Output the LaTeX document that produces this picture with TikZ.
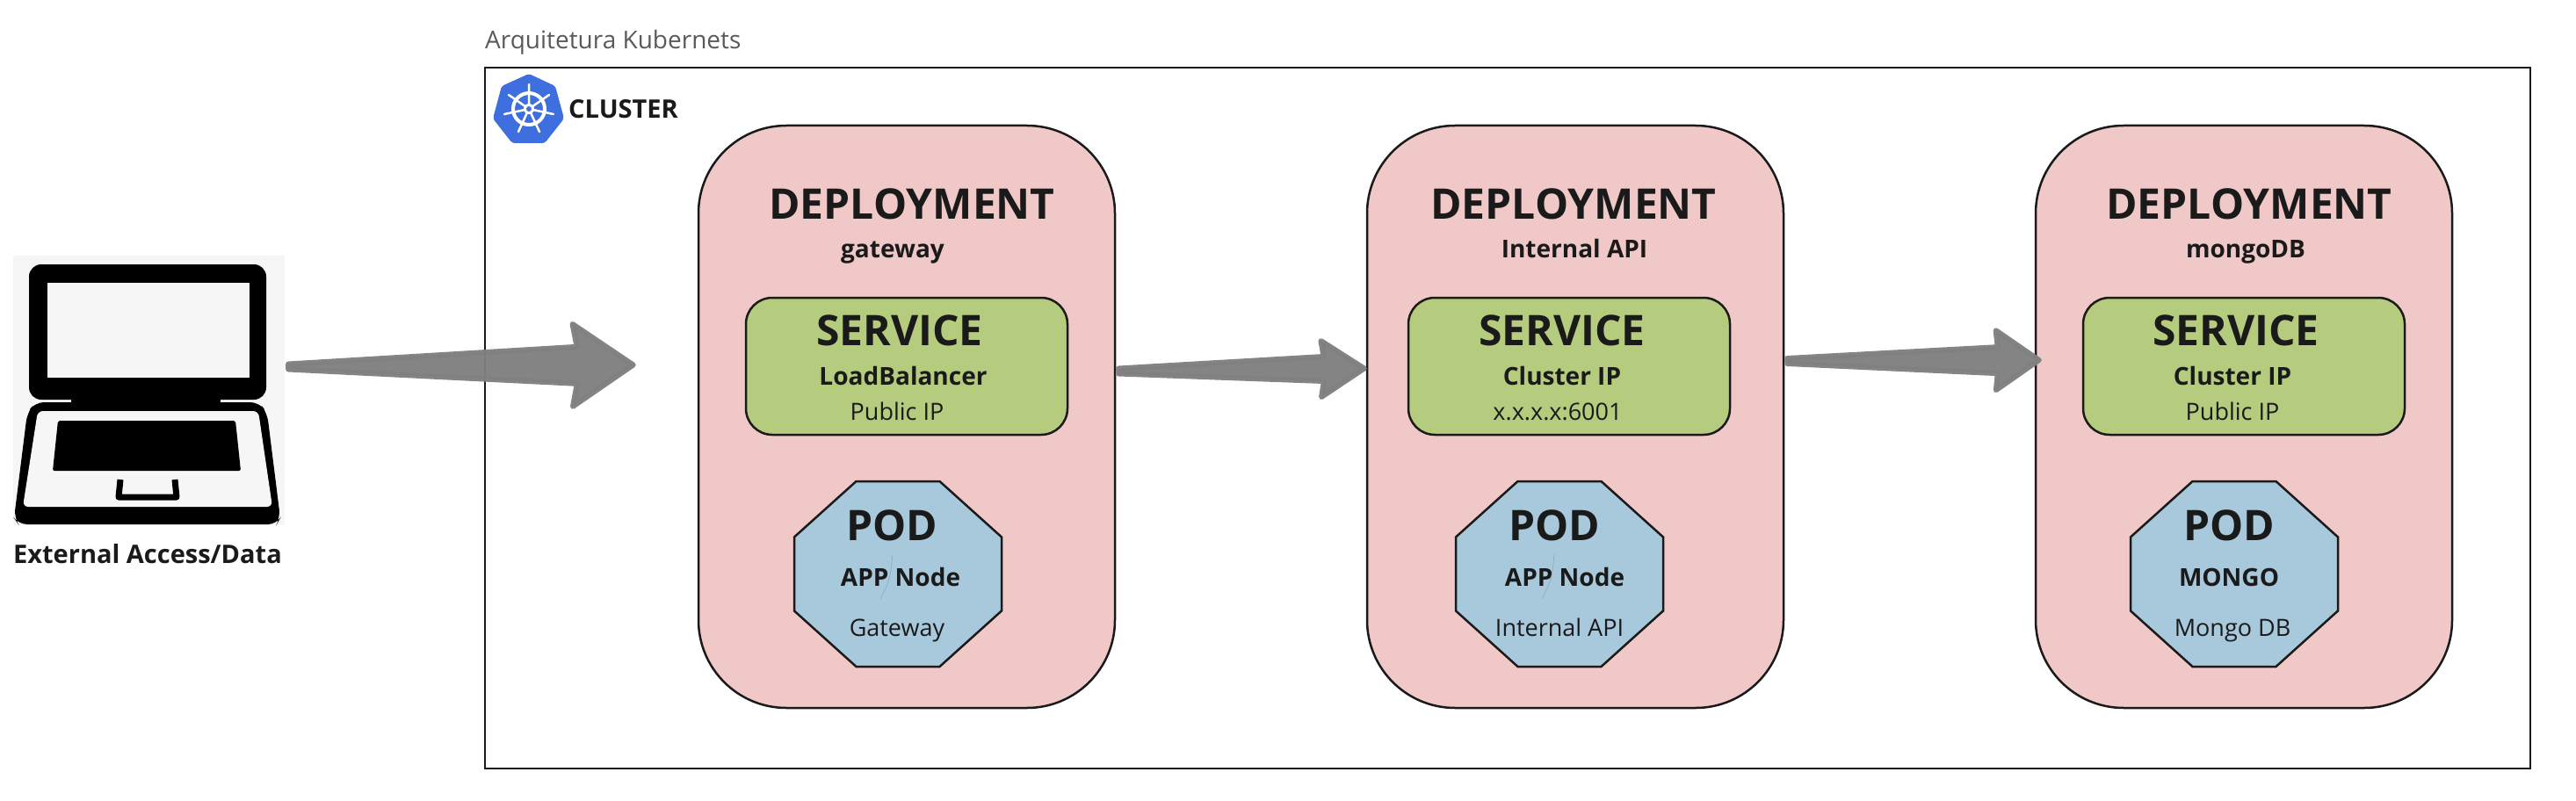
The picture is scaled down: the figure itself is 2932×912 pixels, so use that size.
\documentclass[tikz,border=0pt]{standalone}
\usepackage{fontspec}
\setmainfont{Open Sans}
\usetikzlibrary{calc}
\definecolor{depfill}{HTML}{F0C8C8}
\definecolor{svcfill}{HTML}{B5CB7E}
\definecolor{podfill}{HTML}{A8C8DC}
\definecolor{inkdark}{HTML}{1A1A1A}
\definecolor{arrowgrey}{HTML}{808080}
\definecolor{k8sblue}{HTML}{3F6FDE}
\definecolor{screengrey}{HTML}{F6F6F6}
\definecolor{scratchblue}{HTML}{8CA8BC}
\tikzset{
  depbox/.style={draw=inkdark, line width=2.5pt, fill=depfill, rounded corners=100pt, minimum width=474pt, minimum height=663pt, inner sep=0pt},
  svcbox/.style={draw=inkdark, line width=2.5pt, fill=svcfill, rounded corners=30pt, minimum width=366pt, minimum height=156pt, inner sep=0pt},
  podbox/.pic={\draw[draw=inkdark, line width=2.5pt, fill=podfill, line join=miter] (-47.5,-105.5) -- (47.5,-105.5) -- (118,-42) -- (118,42) -- (47.5,105.5) -- (-47.5,105.5) -- (-118,42) -- (-118,-42) -- cycle;},
  bigtext/.style={anchor=base, text=inkdark, font=\fontsize{48}{48}\selectfont\bfseries},
  boldtext/.style={anchor=base, text=inkdark, font=\fontsize{28}{28}\selectfont\bfseries},
  widetext/.style={anchor=base, text=inkdark, font=\fontsize{29}{29}\selectfont\bfseries},
  lighttext/.style={anchor=base, text=inkdark, font=\fontsize{27}{27}\selectfont},
  scratch/.style={draw=scratchblue, line width=.6pt},
}
% Tapered arrow: tail, tip, half width at tail, half width at neck, neck distance, barb distance, barb half width
\newcommand{\fatarrow}[7]{
  \path[fill=arrowgrey, draw=arrowgrey, line width=6pt, line join=round, opacity=.97]
    ($(#1)!#3pt!-90:(#2)$) -- ($($(#2)!#5pt!(#1)$)!#4pt!-90:(#2)$) -- ($($(#2)!#6pt!(#1)$)!#7pt!-90:(#2)$)
    -- (#2) -- ($($(#2)!#6pt!(#1)$)!#7pt!90:(#2)$) -- ($($(#2)!#5pt!(#1)$)!#4pt!90:(#2)$)
    -- ($(#1)!#3pt!90:(#2)$) -- cycle;
}
\begin{document}
\begin{tikzpicture}[x=1pt, y=-1pt]
\useasboundingbox (0,0) rectangle (2932,912);
% Title and cluster frame
\node[anchor=base west, inner sep=0pt, text=black!65, font=\fontsize{28}{28}\selectfont] (title) at (552,55.5) {Arquitetura Kubernets};
\draw[draw=inkdark, line width=2.5pt] (552,77) rectangle (2880,875);
% Cluster logo
\fill[k8sblue, rounded corners=3pt] (602,84) -- (632,98) -- (642,135) -- (620,163) -- (583,163) -- (561,135) -- (571,98) -- cycle;
\draw[white, line width=4pt] (602,124) circle (18);
\draw[white, line width=2.5pt, line cap=round] (602,124) -- +(0,-28) (602,124) -- +(23,-16) (602,124) -- +(28,6) (602,124) -- +(12,26) (602,124) -- +(-12,26) (602,124) -- +(-28,6) (602,124) -- +(-23,-16);
\fill[white] (602,124) circle (6);
\fill[k8sblue] (602,124) circle (3);
\node[widetext, anchor=base west, inner sep=0pt] (cluster) at (647,135) {CLUSTER};
% Laptop
\node[fill=screengrey, minimum width=309pt, minimum height=307pt, inner sep=0pt] (laptop) at (169.5,444.5) {};
\fill[black, rounded corners=14pt] (33,301) rectangle (303,455);
\fill[black] (81,450) rectangle (251,470);
\fill[screengrey] (54,322) rectangle (284,430);
\fill[black, rounded corners=10pt] (40,458) -- (295,458) -- (304,470) -- (319,590) -- (315,597) -- (21,597) -- (16,590) -- (31,470) -- cycle;
\fill[screengrey, rounded corners=6pt] (43,468) -- (294,468) -- (310,577) -- (26,577) -- cycle;
\fill[black, rounded corners=2pt] (66,479) -- (268,479) -- (274,536) -- (60,536) -- cycle;
\draw[black, line width=7pt, line join=round] (137,546) -- (135,566) -- (201,566) -- (199,546);
\node[widetext] (laptoplabel) at (168,641) {External Access/Data};
% Deployment gateway
\node[depbox] (dep1) at (1032,474.5) {};
\node[bigtext] (dep1title) at (1038,249.5) {DEPLOYMENT};
\node[boldtext] (dep1name) at (1016,293) {gateway};
\node[svcbox] (svc1) at (1032,417) {};
\node[bigtext] (svc1title) at (1024,393.5) {SERVICE};
\node[boldtext] (svc1type) at (1028,438) {LoadBalancer};
\node[lighttext] (svc1addr) at (1021,478) {Public IP};
\pic (pod1) at (1022,653.5) {podbox};
\node[bigtext] (pod1title) at (1015,615.5) {POD};
\node[boldtext] (pod1type) at (1025,667) {APP Node};
\node[lighttext] (pod1name) at (1021,724) {Gateway};
\draw[scratch] (1016,631) .. controls (1013,660) .. (1002,682);
% Deployment Internal API
\node[depbox] (dep2) at (1793,474.5) {};
\node[bigtext] (dep2title) at (1791,249.5) {DEPLOYMENT};
\node[boldtext] (dep2name) at (1792,293) {Internal API};
\node[svcbox] (svc2) at (1786,417) {};
\node[bigtext] (svc2title) at (1778,393.5) {SERVICE};
\node[boldtext] (svc2type) at (1778,438) {Cluster IP};
\node[lighttext] (svc2addr) at (1773,478) {x.x.x.x:6001};
\pic (pod2) at (1775,653.5) {podbox};
\node[bigtext] (pod2title) at (1769,615.5) {POD};
\node[boldtext] (pod2type) at (1781,667) {APP Node};
\node[lighttext] (pod2name) at (1775,724) {Internal API};
\draw[scratch] (1769,631) .. controls (1766,660) .. (1755,682);
% Deployment mongoDB
\node[depbox] (dep3) at (2554,474.5) {};
\node[bigtext] (dep3title) at (2560,249.5) {DEPLOYMENT};
\node[boldtext] (dep3name) at (2556,293) {mongoDB};
\node[svcbox] (svc3) at (2554,417) {};
\node[bigtext] (svc3title) at (2545,393.5) {SERVICE};
\node[boldtext] (svc3type) at (2541,438) {Cluster IP};
\node[lighttext] (svc3addr) at (2541,478) {Public IP};
\pic (pod3) at (2543,653.5) {podbox};
\node[bigtext] (pod3title) at (2537,615.5) {POD};
\node[boldtext] (pod3type) at (2537,667) {MONGO};
\node[lighttext] (pod3name) at (2541,724) {Mongo DB};
% Arrows between blocks
\coordinate (tail1) at ($(laptop.east)+(4,-27)$);
\coordinate (tip1) at ($(dep1.west)+(-73,-59)$);
\coordinate (tail2) at ($(dep1.east)+(3,-52)$);
\coordinate (tip2) at ($(dep2.west)+(-2,-55)$);
\coordinate (tail3) at ($(dep2.east)+(3,-63.5)$);
\coordinate (tip3) at ($(dep3.west)+(5,-64.5)$);
\fatarrow{tail1}{tip1}{3}{21}{64}{69}{47}
\fatarrow{tail2}{tip2}{3}{14}{46}{49}{32}
\fatarrow{tail3}{tip3}{3}{15}{47}{49}{34}
\end{tikzpicture}
\end{document}
